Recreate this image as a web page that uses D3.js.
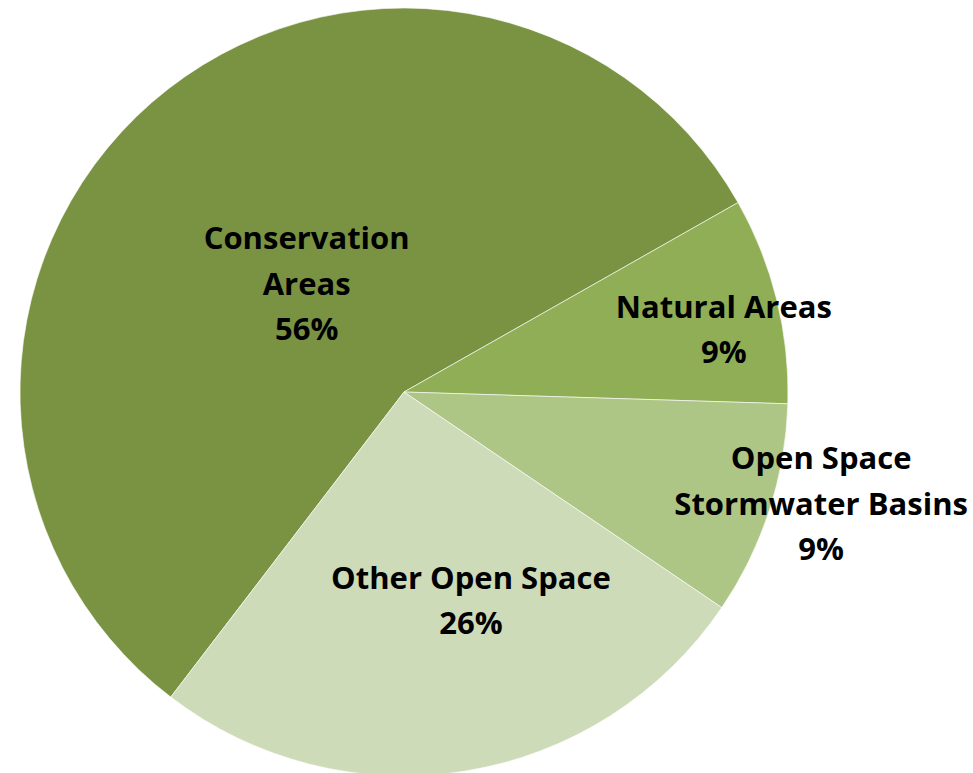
<!DOCTYPE html>
<html>
<head>
    <title>Open Space Pie</title>
    <script src="https://d3js.org/d3.v7.min.js"></script>
    <style>
        body { margin: 0; background: #fff; }
    </style>
</head>
<body>
    <svg id="pie"></svg>

    <script>
        const categories = ["Conservation Areas", "Natural Areas", "Open Space Stormwater Basins", "Other Open Space"];
        const values = [56.4, 8.7, 9.0, 25.9];
        const colors = ["#7a9343", "#8fae55", "#adc585", "#cedbb8"];

        // how each label is broken into lines
        const labelLines = [
            ["Conservation", "Areas"],
            ["Natural Areas"],
            ["Open Space", "Stormwater Basins"],
            ["Other Open Space"]
        ];

        const width = 973;
        const height = 773;
        const cx = 404, cy = 392, radius = 384;
        const startDeg = 217.4;

        // label placement: fraction of radius along slice mid-angle, plus nudge
        const labelPlace = [
            { k: 0.37, dx: -4, dy: -1 },
            { k: 0.85, dx: 3, dy: 16 },
            { k: 1.12, dx: 8, dy: -21 },
            { k: 0.60, dx: 30, dy: -19 }
        ];

        const svg = d3.select("#pie")
            .attr("width", width)
            .attr("height", height);

        const g = svg.append("g")
            .attr("transform", `translate(${cx},${cy})`);

        const pie = d3.pie()
            .sort(null)
            .value(d => d.value)
            .startAngle(startDeg * Math.PI / 180)
            .endAngle(startDeg * Math.PI / 180 + 2 * Math.PI);

        const table = categories.map((c, i) => ({ name: c, value: values[i], color: colors[i], lines: labelLines[i], place: labelPlace[i] }));
        const arcs = pie(table);

        const arc = d3.arc().innerRadius(0).outerRadius(radius);

        g.selectAll("path")
            .data(arcs)
            .enter()
            .append("path")
            .attr("d", arc)
            .attr("fill", d => d.data.color)
            .attr("stroke", "#fff")
            .attr("stroke-opacity", 0.6)
            .attr("stroke-width", 1);

        const total = d3.sum(values);
        const lineH = 45.5;

        const labels = g.selectAll("text")
            .data(arcs)
            .enter()
            .append("text")
            .attr("text-anchor", "middle")
            .attr("font-family", "'Open Sans', sans-serif")
            .attr("font-weight", "bold")
            .attr("font-size", 31)
            .attr("fill", "#000")
            .attr("transform", d => {
                const a = (d.startAngle + d.endAngle) / 2;
                const r = radius * d.data.place.k;
                const x = r * Math.sin(a) + d.data.place.dx;
                const y = -r * Math.cos(a) + d.data.place.dy;
                return `translate(${x},${y})`;
            });

        labels.each(function(d) {
            const lines = d.data.lines.concat([Math.round(d.data.value / total * 100) + "%"]);
            const t = d3.select(this);
            const y0 = -(lines.length - 1) / 2 * lineH + 11;
            lines.forEach((l, i) => {
                t.append("tspan")
                    .attr("x", 0)
                    .attr("y", y0 + i * lineH)
                    .text(l);
            });
        });
    </script>
</body>
</html>
